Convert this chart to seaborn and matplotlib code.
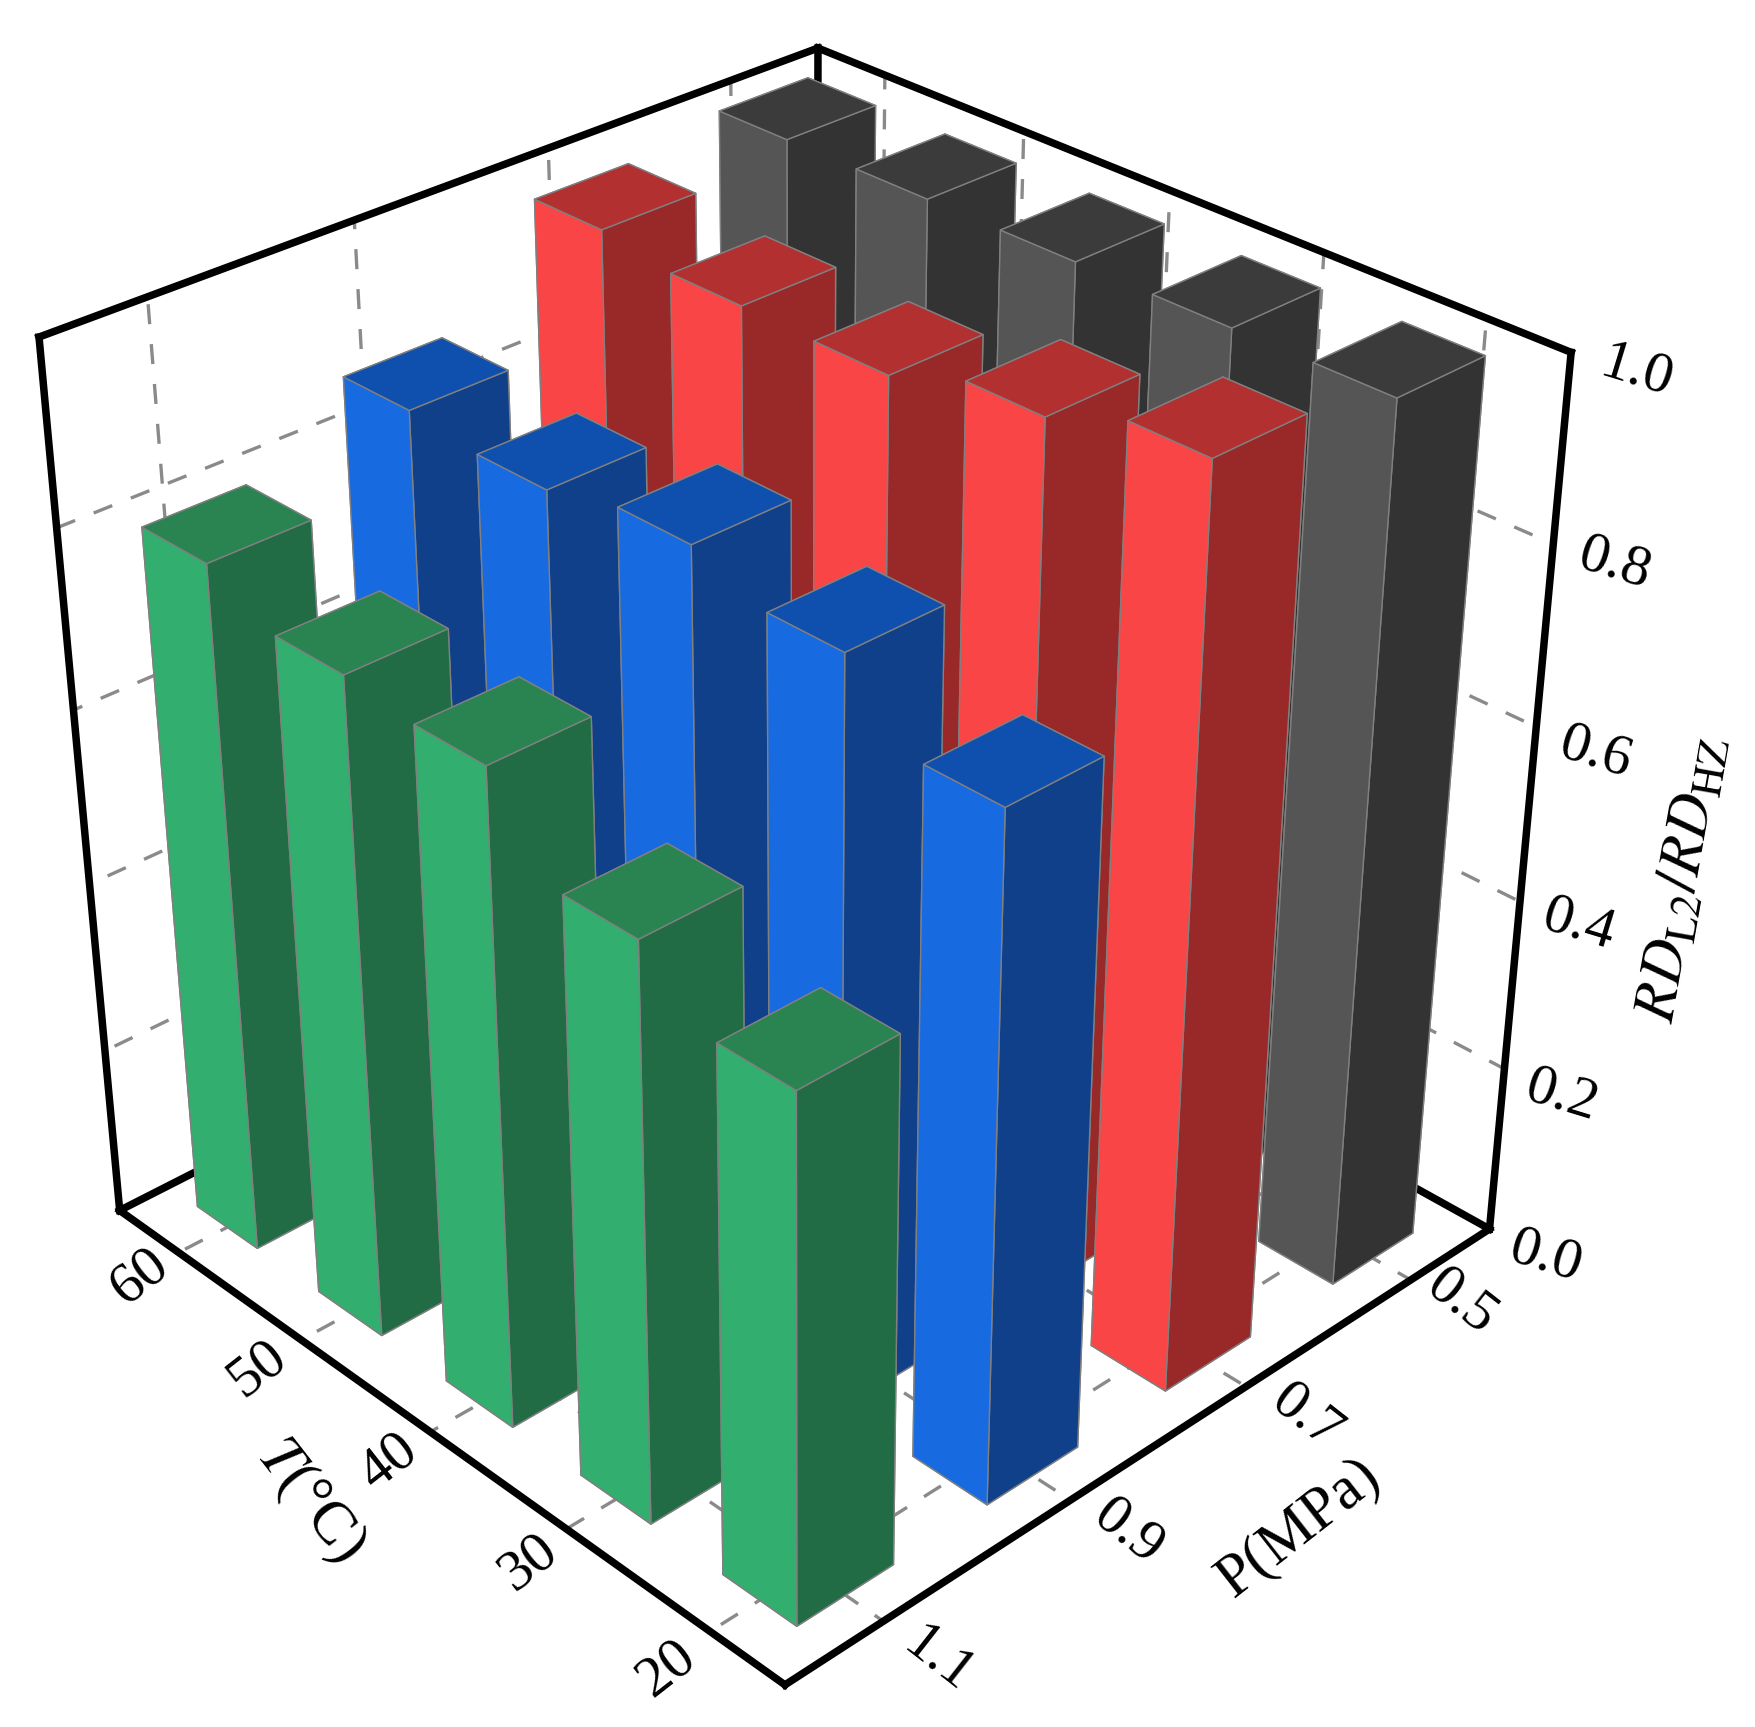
"""3D bar chart of RD_L2/RD_HZ against temperature and pressure."""

import matplotlib
matplotlib.use("Agg")
import matplotlib.pyplot as plt
import numpy as np
import seaborn as sns

# ---------- data ----------
temps = [60, 50, 40, 30, 20]
pressures = [0.5, 0.7, 0.9, 1.1]
z_ticks = [0.0, 0.2, 0.4, 0.6, 0.8, 1.0]

gray_vals = [1.0, 1.0, 1.0, 1.0, 1.0]
red_vals = [0.98, 0.967, 0.965, 0.995, 1.028]
blue_vals = [0.87, 0.86, 0.88, 0.85, 0.778]
green_vals = [0.797, 0.76, 0.75, 0.66, 0.60]
series = [gray_vals, red_vals, blue_vals, green_vals]

# face colours per series: front-left, front-right, top
shades = [
    ("#555555", "#333333", "#3b3b3b"),
    ("#f94545", "#992828", "#b23030"),
    ("#186ae0", "#10408a", "#0f50ae"),
    ("#32ae6e", "#216c44", "#2a8452"),
]

# ---------- style ----------
sns.set_theme(style="white")
plt.rcParams["font.family"] = ["Liberation Serif", "DejaVu Serif"]
plt.rcParams["mathtext.fontset"] = "stix"

W, H = 1568.0, 1542.0  # layout worked out on the shrunk reference
P_LIM = (0.4, 1.2)
T_LIM = (65, 15)
BAR_P, BAR_T = 0.1, 5.0

fig = plt.figure(figsize=(17.56, 17.27), dpi=100, facecolor="white")
ax = fig.add_axes([-72 / W, 33 / H, 1536 / W, 1536 / H],
                  projection="3d", computed_zorder=False)
ax.set_proj_type("persp", focal_length=0.514)
ax.view_init(elev=31.5, azim=46.3)
ax.set_box_aspect((1, 1, 1.0))
ax.set_xlim(*P_LIM)
ax.set_ylim(*T_LIM)
ax.set_zlim(0, 1)
ax.set_axis_off()
ax.patch.set_alpha(0)

# ---------- grid on floor and back walls ----------
grid_kw = dict(color="#8a8a8a", lw=2.4, dashes=(6, 6), zorder=1)
for p in pressures:
    ax.plot([p, p], T_LIM, [0, 0], **grid_kw)
    ax.plot([p, p], [T_LIM[0]] * 2, [0, 1], **grid_kw)
for t in temps:
    ax.plot(P_LIM, [t, t], [0, 0], **grid_kw)
    ax.plot([P_LIM[0]] * 2, [t, t], [0, 1], **grid_kw)
for z in z_ticks[1:-1]:
    ax.plot(P_LIM, [T_LIM[0]] * 2, [z, z], **grid_kw)
    ax.plot([P_LIM[0]] * 2, T_LIM, [z, z], **grid_kw)

# ---------- box edges behind the bars ----------
box_kw = dict(color="black", lw=5.4, solid_capstyle="projecting")
ax.plot([P_LIM[0]] * 2, [T_LIM[0]] * 2, [0, 1], zorder=2, **box_kw)
ax.plot(P_LIM, [T_LIM[0]] * 2, [0, 0], zorder=2, **box_kw)
ax.plot([P_LIM[0]] * 2, T_LIM, [0, 0], zorder=2, **box_kw)

# ---------- bars, back to front ----------
order = 3
for p, vals, (left, right, top) in zip(pressures, series, shades):
    for t, v in zip(temps, vals):
        # bar3d face order: -z, +z, -y, +y, -x, +x
        faces = [right, top, right, left, left, left]
        ax.bar3d(p - BAR_P / 2, t - BAR_T / 2, 0, BAR_P, BAR_T, v,
                 color=faces, shade=False, edgecolor="#808080",
                 linewidth=1.0, zorder=order)
        order += 1

# ---------- box edges in front ----------
ax.plot([P_LIM[1]] * 2, [T_LIM[0]] * 2, [0, 1], zorder=100, **box_kw)
ax.plot([P_LIM[0]] * 2, [T_LIM[1]] * 2, [0, 1], zorder=100, **box_kw)
ax.plot([P_LIM[1]] * 2, T_LIM, [0, 0], zorder=100, **box_kw)
ax.plot(P_LIM, [T_LIM[1]] * 2, [0, 0], zorder=100, **box_kw)
ax.plot(P_LIM, [T_LIM[0]] * 2, [1, 1], zorder=100, **box_kw)
ax.plot([P_LIM[0]] * 2, T_LIM, [1, 1], zorder=100, **box_kw)


# ---------- labels ----------
def put(label, px, py, rot, size=42):
    fig.text(px / W, 1 - py / H, label, ha="center", va="center",
             rotation=rot, rotation_mode="anchor", fontsize=size, color="black")


t_pos = [(125, 1140), (230, 1222), (347, 1305), (472, 1395), (595, 1490)]
for t, (px, py) in zip(temps, t_pos):
    put(str(t), px, py, 38)

p_pos = [(1305, 1163), (1167, 1265), (1008, 1368), (838, 1482)]
for p, (px, py) in zip(pressures, p_pos):
    put(f"{p:.1f}", px, py, -38)

z_pos = [(1380, 1122), (1395, 978), (1410, 826), (1425, 672), (1442, 503), (1462, 332)]
for z, (px, py) in zip(z_ticks, z_pos):
    put(f"{z:.1f}", px, py, -17)

put(r"$\mathit{T}$(°C)", 277, 1340, -52, 44)
put("P(MPa)", 1160, 1365, 38, 44)
put(r"$\mathit{RD}_{\mathrm{L2}}/\mathit{RD}_{\mathrm{HZ}}$", 1503, 785, 80, 44)

fig.savefig("out.png", dpi=100)
